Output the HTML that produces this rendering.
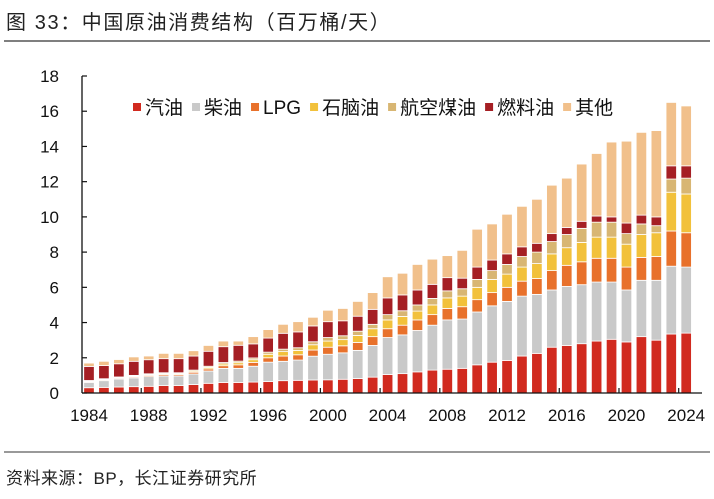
<!DOCTYPE html>
<html><head><meta charset="utf-8"><style>
body{margin:0;background:#fff;width:714px;height:494px;overflow:hidden;font-family:"Liberation Sans","Noto Sans CJK SC",sans-serif;}
svg text{font-family:"Liberation Sans","Noto Sans CJK SC",sans-serif;}
</style></head><body>
<svg id="c" width="714" height="494">
<text x="6" y="29" font-size="20" letter-spacing="1.6" fill="#222">图 33：中国原油消费结构（百万桶/天）</text>
<line x1="4" y1="41" x2="710" y2="41" stroke="#333" stroke-width="1.2"/>
<line x1="4" y1="452" x2="710" y2="452" stroke="#333" stroke-width="1"/>
<text x="6" y="484" font-size="17" letter-spacing="0.5" fill="#222">资料来源：BP，长江证券研究所</text>
</svg>
<script>
const years=[];for(let y=1984;y<=2024;y++)years.push(y);
const gasoline=[0.3,0.32,0.34,0.36,0.38,0.42,0.42,0.48,0.55,0.6,0.6,0.62,0.65,0.7,0.72,0.74,0.75,0.78,0.82,0.9,1.05,1.1,1.2,1.3,1.35,1.4,1.6,1.75,1.85,2.1,2.25,2.6,2.7,2.8,2.95,3.05,2.9,3.2,3.0,3.35,3.4];
const diesel=[0.3,0.38,0.45,0.5,0.55,0.55,0.55,0.6,0.7,0.8,0.8,0.9,1.1,1.1,1.15,1.35,1.45,1.5,1.6,1.8,2.1,2.2,2.35,2.55,2.8,2.8,3.0,3.2,3.35,3.4,3.35,3.25,3.35,3.35,3.35,3.25,2.95,3.2,3.4,3.85,3.75];
const lpg=[0.05,0.05,0.05,0.06,0.07,0.08,0.08,0.1,0.12,0.15,0.2,0.22,0.25,0.3,0.3,0.35,0.4,0.4,0.45,0.5,0.5,0.55,0.6,0.6,0.65,0.7,0.7,0.75,0.8,0.85,0.9,1.1,1.2,1.3,1.35,1.35,1.3,1.3,1.35,2.0,1.95];
const naphtha=[0.03,0.03,0.03,0.04,0.04,0.05,0.05,0.06,0.08,0.1,0.12,0.15,0.2,0.25,0.25,0.3,0.35,0.35,0.4,0.45,0.5,0.5,0.5,0.55,0.6,0.6,0.7,0.75,0.75,0.8,0.85,0.95,1.0,1.1,1.2,1.2,1.3,1.3,1.35,2.2,2.2];
const jet=[0.03,0.03,0.04,0.04,0.05,0.05,0.05,0.06,0.07,0.08,0.09,0.1,0.12,0.14,0.15,0.17,0.2,0.22,0.24,0.25,0.3,0.32,0.35,0.37,0.4,0.42,0.45,0.5,0.55,0.6,0.65,0.7,0.75,0.8,0.85,0.85,0.6,0.6,0.4,0.75,0.9];
const fuelOil=[0.8,0.75,0.75,0.8,0.8,0.8,0.8,0.8,0.85,0.9,0.9,0.8,0.8,0.9,0.9,0.9,0.9,0.85,0.85,0.85,0.95,0.9,0.85,0.8,0.75,0.6,0.7,0.6,0.6,0.55,0.5,0.45,0.4,0.4,0.35,0.3,0.6,0.5,0.5,0.75,0.7];
const other=[0.19,0.24,0.24,0.25,0.21,0.3,0.3,0.3,0.33,0.32,0.24,0.41,0.48,0.51,0.58,0.49,0.65,0.7,0.84,0.95,1.2,1.23,1.45,1.43,1.25,1.58,2.15,2.05,2.25,2.3,2.5,2.75,2.8,3.25,3.55,4.25,4.65,4.7,4.9,3.6,3.4];
const seriesList=[gasoline,diesel,lpg,naphtha,jet,fuelOil,other];
const seriesNames=["汽油","柴油","LPG","石脑油","航空煤油","燃料油","其他"];
const seriesKeys=["gasoline","diesel","lpg","naphtha","jet-fuel","fuel-oil","other"];
const colors=["#d12a1f","#c9c9c9","#e8712b","#f2c13b","#d8b673","#a51f24","#f1c08b"];
const yTicks=[0,2,4,6,8,10,12,14,16,18];
const xLabels=[1984,1988,1992,1996,2000,2004,2008,2012,2016,2020,2024];
const NS="http://www.w3.org/2000/svg";
const svg=document.getElementById('c');
const y0=393,y1=76,yMax=18;
const yS=v=>y0-(v/yMax)*(y0-y1);
const xS=yr=>89+(yr-1984)*14.93;
const bw=10.5;
function mk(t,a){const e=document.createElementNS(NS,t);for(const k in a)e.setAttribute(k,a[k]);svg.appendChild(e);return e;}
years.forEach((yr,i)=>{let acc=0;seriesList.forEach((s,j)=>{const v=s[i];const r=mk('rect',{x:xS(yr)-bw/2,y:yS(acc+v),width:bw,height:Math.max(0,yS(acc)-yS(acc+v)),fill:colors[j],stroke:'#fff','stroke-width':0.8});


acc+=v;});});
let ax=mk('line',{x1:82,y1:y1,x2:82,y2:y0,stroke:'#111','stroke-width':1.3});


let bx=mk('line',{x1:82,y1:y0,x2:702,y2:y0,stroke:'#111','stroke-width':1.3});


yTicks.forEach(v=>{const t=mk('line',{x1:82,y1:yS(v),x2:87,y2:yS(v),stroke:'#111','stroke-width':1.2});


const l=mk('text',{x:59,y:yS(v)+6,'text-anchor':'end','font-size':17,fill:'#111'});l.textContent=v;

});
xLabels.forEach(yr=>{const xx=xS(yr)-7.5;if(yr>1984){const t=mk('line',{x1:xx,y1:y0,x2:xx,y2:y0-5,stroke:'#111','stroke-width':1.2});

}
const l=mk('text',{x:xS(yr),y:421,'text-anchor':'middle','font-size':17,fill:'#111'});l.textContent=yr;

});
let lx=133;seriesNames.forEach((n,j)=>{const r=mk('rect',{x:lx,y:103,width:8,height:8,fill:colors[j]});


const t=mk('text',{x:lx+12,y:114,'font-size':19,fill:'#111'});t.textContent=n;


lx+=12+t.getComputedTextLength()+9;});
</script>
</body></html>
